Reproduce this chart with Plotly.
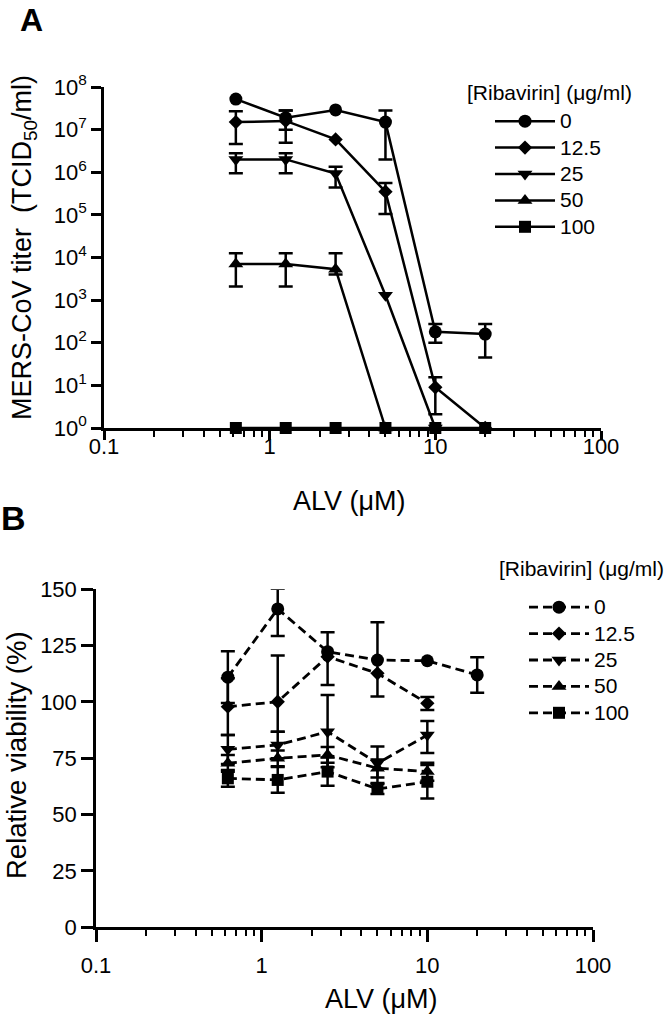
import plotly.graph_objects as go

# ---------------- data ----------------
alv_doses = [0.625, 1.25, 2.5, 5, 10, 20]          # ALV (uM)
ribavirin_labels = ["0", "12.5", "25", "50", "100"]  # ug/ml

# Panel A: MERS-CoV titer (TCID50/ml)
titer_0 = [5.2e7, 1.9e7, 2.9e7, 1.5e7, 180, 160]
titer_0_hi = [None, 2.8e7, None, 2.8e7, 275, 275]
titer_0_lo = [None, 1.0e7, None, 2.0e6, 100, 45]

titer_12 = [1.5e7, 1.6e7, 5.9e6, 3.5e5, 9, 1]
titer_12_hi = [2.7e7, 2.8e7, None, 5.6e5, 15.5, None]
titer_12_lo = [4.6e6, 4.9e6, None, 1.05e5, 2.1, None]

titer_25 = [2.0e6, 2.0e6, 9.3e5, 1.3e3, 1]
titer_25_hi = [2.8e6, 2.8e6, 1.35e6, None, None]
titer_25_lo = [9.5e5, 9.5e5, 4.4e5, None, None]

titer_50 = [7.0e3, 7.0e3, 5.3e3, 1]
titer_50_hi = [1.26e4, 1.26e4, 1.25e4, None]
titer_50_lo = [2.1e3, 2.1e3, 4.0e3, None]

titer_100 = [1, 1, 1, 1, 1, 1]
titer_100_hi = [None, None, None, None, None, None]
titer_100_lo = [None, None, None, None, None, None]

# Panel B: relative viability (%)
viab_0 = [111, 141.3, 122.3, 118.6, 118.3, 112]
viab_0_hi = [122.5, 150.2, 130.9, 135.4, None, 119.8]
viab_0_lo = [99.5, 129.3, 107.5, 102.4, None, 104.1]

viab_12 = [97.9, 100.1, 120.1, 112.7, 99.4]
viab_12_hi = [110.5, 120.6, None, None, 102.2]
viab_12_lo = [85.3, 86.8, None, None, 96.4]

viab_25 = [79, 80.9, 86.8, 72.8, 85.3]
viab_25_hi = [85.3, 86.8, 103.1, 80.2, 91.6]
viab_25_lo = [72.5, 75, 71, 64, 77.3]

viab_50 = [72.8, 75, 76.5, 70.6, 69.1]
viab_50_hi = [76.5, 78.5, 80, 74.5, 73]
viab_50_lo = [69, 71.5, 73, 66.5, 65]

viab_100 = [66.1, 65.4, 69.1, 61.4, 64.6]
viab_100_hi = [69.8, 71.1, 75.4, 63.6, 72]
viab_100_lo = [62.4, 59.7, 62.8, 59.2, 57.2]

# axis tick labels
x_tickvals = [0.1, 1, 10, 100]
x_ticktext = ["0.1", "1", "10", "100"]
titer_tickvals = [1e0, 1e1, 1e2, 1e3, 1e4, 1e5, 1e6, 1e7, 1e8]
titer_ticktext = ["10<sup>%d</sup>" % i for i in range(9)]
viab_tickvals = [0, 25, 50, 75, 100, 125, 150]

# ---------------- styling ----------------
FONT = "Liberation Sans, Arial, Helvetica, sans-serif"
W, H = 666, 1016
symbols = ["circle", "diamond", "triangle-down", "triangle-up", "square"]
sizes = [13, 11, 13, 13, 12]
LW = 2.5
TICKFONT = 22


def px_x(p):
    return p / W


def px_y(p):
    return 1 - p / H


fig = go.Figure()


def add_series(xs, ys, his, los, name, sym, size, xa, ya, legend, dash):
    # error bars only for points that have them
    ex, ey, eplus, eminus = [], [], [], []
    for x, y, h, l in zip(xs, ys, his, los):
        if h is not None or l is not None:
            ex.append(x)
            ey.append(y)
            eplus.append((h - y) if h is not None else 0)
            eminus.append((y - l) if l is not None else 0)
    if ex:
        fig.add_trace(go.Scatter(
            x=ex, y=ey, mode="markers", xaxis=xa, yaxis=ya,
            marker=dict(size=1, color="rgba(0,0,0,0)"),
            error_y=dict(type="data", symmetric=False, array=eplus,
                         arrayminus=eminus, color="black",
                         thickness=LW, width=7),
            showlegend=False, hoverinfo="skip", cliponaxis=False))
    fig.add_trace(go.Scatter(
        x=xs, y=ys, mode="lines+markers", xaxis=xa, yaxis=ya,
        name="<span style='font-size:21px'>%s</span>" % name,
        legend=legend,
        line=dict(color="black", width=LW if dash is None else 2.8,
                  dash=dash if dash else "solid"),
        marker=dict(symbol=sym, size=size, color="black",
                    line=dict(width=0)),
        cliponaxis=False))


titer_series = [
    (titer_0, titer_0_hi, titer_0_lo),
    (titer_12, titer_12_hi, titer_12_lo),
    (titer_25, titer_25_hi, titer_25_lo),
    (titer_50, titer_50_hi, titer_50_lo),
    (titer_100, titer_100_hi, titer_100_lo),
]
viab_series = [
    (viab_0, viab_0_hi, viab_0_lo),
    (viab_12, viab_12_hi, viab_12_lo),
    (viab_25, viab_25_hi, viab_25_lo),
    (viab_50, viab_50_hi, viab_50_lo),
    (viab_100, viab_100_hi, viab_100_lo),
]

for i, (ys, hi, lo) in enumerate(titer_series):
    add_series(alv_doses[:len(ys)], ys, hi, lo, ribavirin_labels[i],
               symbols[i], sizes[i], "x", "y", "legend", None)
for i, (ys, hi, lo) in enumerate(viab_series):
    add_series(alv_doses[:len(ys)], ys, hi, lo, ribavirin_labels[i],
               symbols[i], sizes[i], "x2", "y2", "legend2", "9px,5px")

minor_vals = [m * 10 ** e for e in (-1, 0, 1) for m in range(2, 10)]


def xaxis_cfg(domain, anchor, ticklen, standoff):
    return dict(
        type="log", range=[-1, 2], domain=domain, anchor=anchor,
        showline=True, linecolor="black", linewidth=LW, mirror=False,
        ticks="outside", ticklen=ticklen, tickwidth=LW, tickcolor="black",
        tickvals=x_tickvals, ticktext=x_ticktext,
        tickfont=dict(size=TICKFONT, color="black", family=FONT),
        ticklabelstandoff=standoff,
        minor=dict(tickvals=minor_vals, ticks="outside", ticklen=6,
                   tickwidth=2, tickcolor="black", showgrid=False),
        showgrid=False, zeroline=False, automargin=False)


fig.update_layout(
    width=W, height=H, template="none",
    paper_bgcolor="white", plot_bgcolor="rgba(0,0,0,0)",
    margin=dict(l=0, r=0, t=0, b=0),
    font=dict(family=FONT, color="black"),
    xaxis=xaxis_cfg([px_x(104), px_x(601)], "y", 9, -12),
    yaxis=dict(
        type="log", range=[0, 8], domain=[px_y(428), px_y(87)], anchor="x",
        showline=True, linecolor="black", linewidth=LW,
        ticks="outside", ticklen=10, tickwidth=LW, tickcolor="black",
        tickvals=titer_tickvals, ticktext=titer_ticktext,
        tickfont=dict(size=TICKFONT, color="black", family=FONT),
        showgrid=False, zeroline=False, automargin=False),
    xaxis2=xaxis_cfg([px_x(96), px_x(593)], "y2", 12, 5),
    yaxis2=dict(
        range=[0, 150], domain=[px_y(927.3), px_y(589.3)], anchor="x2",
        showline=True, linecolor="black", linewidth=LW,
        ticks="outside", ticklen=12, tickwidth=LW, tickcolor="black",
        tickvals=viab_tickvals,
        tickfont=dict(size=TICKFONT, color="black", family=FONT),
        showgrid=False, zeroline=False, automargin=False),
    legend=dict(x=px_x(490), y=px_y(103), xanchor="left", yanchor="top",
                itemwidth=60, font=dict(size=18, color="black", family=FONT),
                bgcolor="rgba(0,0,0,0)", tracegroupgap=0),
    legend2=dict(x=px_x(524), y=px_y(589), xanchor="left", yanchor="top",
                 itemwidth=60, font=dict(size=18, color="black", family=FONT),
                 bgcolor="rgba(0,0,0,0)", tracegroupgap=0),
    showlegend=True,
)

annots = [
    dict(text="<b>A</b>", x=px_x(31), y=px_y(0), size=32, angle=0, ya="top"),
    dict(text="<b>B</b>", x=px_x(13), y=px_y(518), size=34, angle=0,
         ya="middle"),
    dict(text="MERS-CoV titer  (TCID<sub>50</sub>/ml)", x=px_x(24),
         y=px_y(248), size=27, angle=-90, ya="middle"),
    dict(text="Relative viability (%)", x=px_x(16), y=px_y(755), size=27.5,
         angle=-90, ya="middle"),
    dict(text="ALV (\u03bcM)", x=px_x(349), y=px_y(501), size=27, angle=0,
         ya="middle"),
    dict(text="ALV (\u03bcM)", x=px_x(381), y=px_y(999), size=27, angle=0,
         ya="middle"),
]
for a in annots:
    fig.add_annotation(text=a["text"], x=a["x"], y=a["y"], xref="paper",
                       yref="paper", xanchor="center", yanchor=a["ya"],
                       showarrow=False, textangle=a["angle"],
                       font=dict(size=a["size"], color="black", family=FONT))

for txt, xpos, anchor, yc in [("[Ribavirin] (\u03bcg/ml)", 465, "left", 92),
                              ("[Ribavirin] (\u03bcg/ml)", 666, "right", 568)]:
    fig.add_annotation(text=txt, x=px_x(xpos), y=px_y(yc), xref="paper",
                       yref="paper", xanchor=anchor, yanchor="middle",
                       showarrow=False,
                       font=dict(size=21, color="black", family=FONT))

fig.write_html("out.html", config={"displayModeBar": False},
               post_script="document.body.style.margin='0px';")
